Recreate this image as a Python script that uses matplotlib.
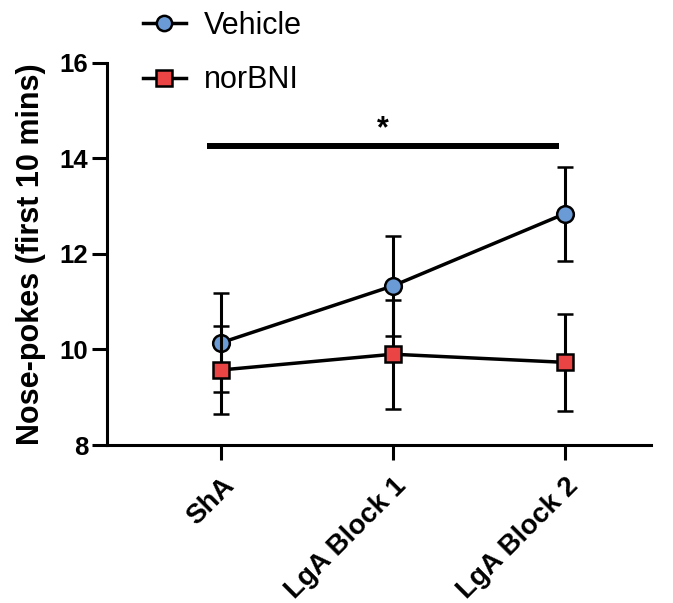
import matplotlib
matplotlib.use("Agg")
import matplotlib.pyplot as plt
from matplotlib.lines import Line2D
import numpy as np

plt.rcParams["font.family"] = ["Liberation Sans", "DejaVu Sans"]

# 数据
categories = ["ShA", "LgA Block 1", "LgA Block 2"]
vehicle_mean = [10.14, 11.33, 12.84]
vehicle_sem = [1.04, 1.05, 0.98]
norbni_mean = [9.57, 9.90, 9.73]
norbni_sem = [0.92, 1.14, 1.02]
sig_y = 14.26

BLUE = "#6b9bd6"
RED = "#ea4444"

fig = plt.figure(figsize=(6.73, 6.03), dpi=100)
ax = fig.add_axes([0.159, 0.262, 0.808, 0.634])

x = np.arange(len(categories))
common = dict(color="black", lw=2.5, capsize=5.5, capthick=2.2, elinewidth=2.2,
              markersize=12, markeredgewidth=1.8, markeredgecolor="black")
ax.errorbar(x, vehicle_mean, yerr=vehicle_sem, marker="o", markerfacecolor=BLUE,
            zorder=3, **common)
ax.errorbar(x, norbni_mean, yerr=norbni_sem, marker="s", markerfacecolor=RED,
            zorder=4, **common)

# 显著性标注
ax.plot([x[0] - 0.08, x[2] - 0.035], [sig_y, sig_y], color="black", lw=4.3,
        solid_capstyle="butt", clip_on=False)
ax.text((x[0] + x[2]) / 2 - 0.06, 14.45, "*", ha="center", va="baseline",
        fontsize=22, fontweight="bold")

ax.set_xlim(-0.663, 2.5)
ax.set_ylim(8, 16)
ax.set_yticks([8, 10, 12, 14, 16])
ax.set_xticks(x)
ax.set_xticklabels(categories, rotation=45, ha="right", rotation_mode="anchor",
                   fontsize=20, fontweight="bold")
for lbl in ax.get_yticklabels():
    lbl.set_fontsize(18.5)
    lbl.set_fontweight("bold")

for s in ["top", "right"]:
    ax.spines[s].set_visible(False)
for s in ["left", "bottom"]:
    ax.spines[s].set_linewidth(2.2)
ax.tick_params(axis="both", width=2.2, length=11)
ax.tick_params(axis="y", pad=2.5)
ax.tick_params(axis="x", pad=9)

ax.set_ylabel("Nose-pokes (first 10 mins)", fontsize=22, fontweight="bold", labelpad=10)

# 图例
handles = [
    Line2D([0], [0], color="black", lw=2.5, marker="o", markersize=11,
           markerfacecolor=BLUE, markeredgecolor="black", markeredgewidth=1.8),
    Line2D([0], [0], color="black", lw=2.5, marker="s", markersize=11,
           markerfacecolor=RED, markeredgecolor="black", markeredgewidth=1.8),
]
fig.legend(handles, ["Vehicle", "norBNI"], loc="upper left",
           bbox_to_anchor=(0.2125, 0.982), frameon=False, fontsize=22,
           handlelength=1.4, labelspacing=0.8, handletextpad=0.6,
           borderpad=0, borderaxespad=0)

fig.savefig("out.png", dpi=100)
